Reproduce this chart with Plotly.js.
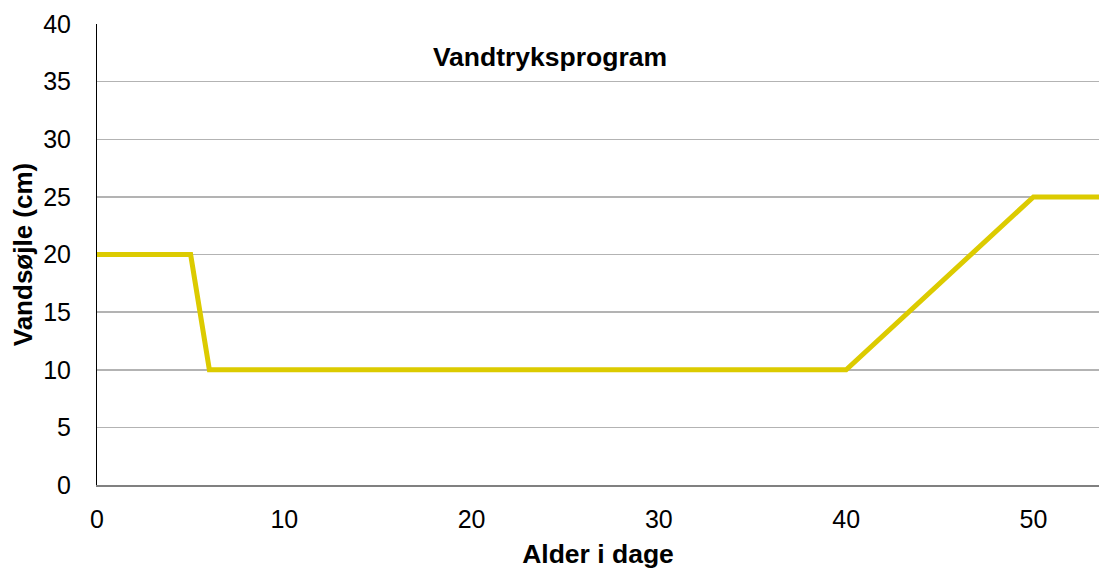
<!DOCTYPE html>
<html>
<head>
<meta charset="utf-8">
<script src="https://cdn.plot.ly/plotly-3.0.1.min.js"></script>
<style>
  html, body { margin: 0; padding: 0; background: #ffffff; }
  #chart { width: 1099px; height: 569px; }
</style>
</head>
<body>
<div id="chart"></div>
<script>
// Water column program: age in days vs. water column height (cm)
const ageDays = [0, 5, 6, 40, 50, 55];
const waterColumnCm = [20, 20, 10, 10, 25, 25];
const xTickValues = [0, 10, 20, 30, 40, 50];
const yTickValues = [0, 5, 10, 15, 20, 25, 30, 35, 40];

const chartTitle = 'Vandtryksprogram';
const xTitle = 'Alder i dage';
const yTitle = 'Vandsøjle (cm)';

const fontFamily = '"Liberation Sans", Arial, sans-serif';

const trace = {
  x: ageDays,
  y: waterColumnCm,
  type: 'scatter',
  mode: 'lines',
  line: { color: '#DCCB00', width: 5 },
  hoverinfo: 'x+y',
  showlegend: false
};

const layout = {
  width: 1099,
  height: 569,
  paper_bgcolor: '#ffffff',
  plot_bgcolor: '#ffffff',
  margin: { l: 97, r: 0, t: 24, b: 84 },
  font: { family: fontFamily, color: '#000000', size: 25 },
  title: {
    text: '<b>' + chartTitle + '</b>',
    font: { family: fontFamily, size: 26.5, color: '#000000' },
    xref: 'container', yref: 'container',
    x: 550 / 1099, xanchor: 'center',
    y: 1 - 57 / 569, yanchor: 'middle'
  },
  xaxis: {
    range: [0, 53.5],
    tickvals: xTickValues,
    ticktext: xTickValues.map(String),
    ticks: '',
    ticklabelstandoff: 11,
    showgrid: false,
    zeroline: false,
    showline: true,
    linecolor: '#808080',
    linewidth: 1.5,
    tickfont: { size: 25 },
    title: {
      text: '<b>' + xTitle + '</b>',
      font: { size: 26.5 },
      standoff: 13
    }
  },
  yaxis: {
    range: [0, 40],
    tickvals: yTickValues,
    ticktext: yTickValues.map(String),
    ticks: '',
    ticklabelstandoff: 20,
    showgrid: true,
    gridcolor: '#b3b3b3',
    gridwidth: 1.5,
    zeroline: false,
    showline: true,
    linecolor: '#000000',
    linewidth: 1,
    tickfont: { size: 25 },
    title: {
      text: '<b>' + yTitle + '</b>',
      font: { size: 26 },
      standoff: 3
    }
  }
};

Plotly.newPlot('chart', [trace], layout, { displayModeBar: false, staticPlot: true });
</script>
</body>
</html>
